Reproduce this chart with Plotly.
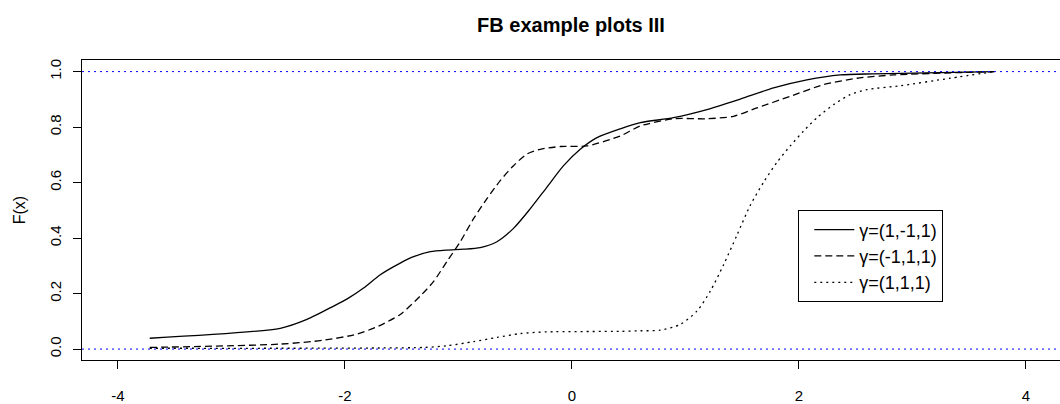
import plotly.graph_objects as go

# ---- data ----
x_a = [-3.72, -2.57, -2.335, -2.10, -1.98, -1.836, -1.689, -1.513, -1.395, -1.248, -1.101,
       -0.955, -0.808, -0.661, -0.515, -0.367, -0.220, -0.074, 0.073, 0.220, 0.426,
       0.602, 0.895, 1.189, 1.483, 1.776, 2.070, 2.364, 2.657, 3.72]
y_a = [0.039, 0.075, 0.107, 0.155, 0.181, 0.220, 0.268, 0.310, 0.333, 0.351, 0.357,
       0.360, 0.366, 0.387, 0.435, 0.506, 0.584, 0.661, 0.720, 0.762, 0.794,
       0.816, 0.834, 0.863, 0.901, 0.941, 0.970, 0.988, 0.992, 1.0]

x_b = [-3.72, -2.57, -2.188, -1.894, -1.704, -1.513, -1.337, -1.219, -1.101, -0.984,
       -0.867, -0.749, -0.632, -0.515, -0.396, -0.279, -0.103, 0.132, 0.426, 0.602,
       0.895, 1.189, 1.424, 1.630, 1.923, 2.217, 2.511, 2.834, 3.72]
y_b = [0.006, 0.018, 0.032, 0.054, 0.083, 0.125, 0.191, 0.244, 0.316, 0.387,
       0.470, 0.542, 0.607, 0.661, 0.703, 0.720, 0.730, 0.732, 0.768, 0.804,
       0.830, 0.830, 0.839, 0.869, 0.911, 0.953, 0.976, 0.988, 1.0]

x_c = [-3.72, -2.57, -1.70, -1.30, -1.101, -0.867, -0.661, -0.455, -0.220, 0.426,
       0.602, 0.778, 0.954, 1.101, 1.219, 1.336, 1.454, 1.571, 1.688, 1.806, 1.923,
       2.041, 2.159, 2.305, 2.452, 2.599, 2.893, 3.33, 3.72]
y_c = [0.003, 0.003, 0.004, 0.006, 0.012, 0.027, 0.042, 0.056, 0.062, 0.064,
       0.066, 0.068, 0.089, 0.137, 0.209, 0.304, 0.411, 0.518, 0.601, 0.673, 0.732,
       0.786, 0.834, 0.881, 0.917, 0.935, 0.949, 0.976, 1.0]

names = ["γ=(1,-1,1)", "γ=(-1,1,1)", "γ=(1,1,1)"]
ref_levels = [0, 1]
x_ticks = [-4, -2, 0, 2, 4]
y_ticks = [0.0, 0.2, 0.4, 0.6, 0.8, 1.0]
y_tick_text = ["0.0", "0.2", "0.4", "0.6", "0.8", "1.0"]

FONT = "Liberation Sans, Arial, Helvetica, sans-serif"

fig = go.Figure()
fig.add_trace(go.Scatter(x=x_a, y=y_a, mode="lines", name=names[0],
                         line=dict(color="black", width=1.3, dash="solid",
                                   shape="spline", smoothing=0.7)))
fig.add_trace(go.Scatter(x=x_b, y=y_b, mode="lines", name=names[1],
                         line=dict(color="black", width=1.3, dash="7px,4px",
                                   shape="spline", smoothing=0.7)))
fig.add_trace(go.Scatter(x=x_c, y=y_c, mode="lines", name=names[2],
                         line=dict(color="black", width=1.3, dash="2px,4px",
                                   shape="spline", smoothing=0.7)))

for lv in ref_levels:
    fig.add_shape(type="line", xref="paper", x0=0, x1=1, yref="y", y0=lv, y1=lv,
                  line=dict(color="#0000ff", width=1, dash="2px,4px"), layer="above")

fig.update_layout(
    width=1060, height=404,
    margin=dict(l=82, r=0, t=60, b=41),
    paper_bgcolor="white", plot_bgcolor="white",
    font=dict(family=FONT, color="black", size=15),
    title=dict(text="<b>FB example plots III</b>", x=0.5, xref="paper", xanchor="center",
               y=1 - 25 / 404, yref="container", yanchor="middle",
               font=dict(size=20, family=FONT, color="black")),
    showlegend=True,
    legend=dict(x=0.7324, y=0.4988, xref="paper", yref="paper", xanchor="left", yanchor="top",
                bordercolor="black", borderwidth=1, bgcolor="white",
                font=dict(size=18, family=FONT, color="black"),
                itemwidth=40, indentation=10),
)
fig.update_xaxes(range=[-4.317, 4.300], tickvals=x_ticks, ticktext=[str(t) for t in x_ticks],
                 showgrid=False, zeroline=False, showline=True, mirror=True,
                 linecolor="black", linewidth=1, ticks="outside", ticklen=8,
                 tickcolor="black", tickwidth=1, ticklabelstandoff=14,
                 tickfont=dict(size=15, family=FONT, color="black"))
fig.update_yaxes(range=[-0.0393, 1.0418], tickvals=y_ticks, ticktext=y_tick_text,
                 showgrid=False, zeroline=False, showline=True, mirror=False,
                 linecolor="black", linewidth=1, ticks="outside", ticklen=8,
                 tickcolor="black", tickwidth=1, tickangle=-90, ticklabelstandoff=6,
                 tickfont=dict(size=15, family=FONT, color="black"),
                 title=dict(text="F(x)", standoff=17, font=dict(size=16, family=FONT, color="black")))

fig.write_html("out.html", config={"displayModeBar": False},
               post_script="document.body.style.margin='0px';document.body.style.overflow='hidden';")
